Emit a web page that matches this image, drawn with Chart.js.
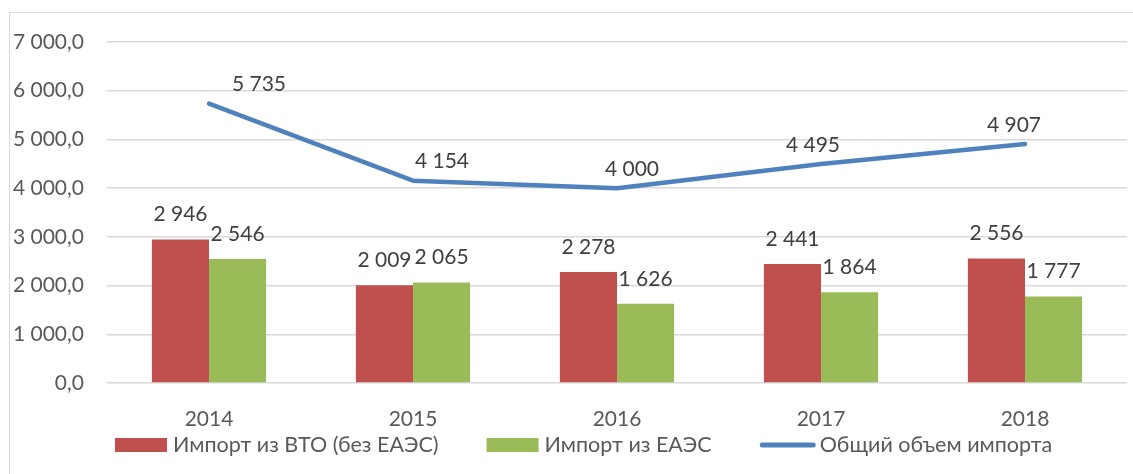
<!DOCTYPE html>
<html>
<head>
<meta charset="utf-8">
<script src="https://cdn.jsdelivr.net/npm/chart.js@4"></script>
<style>
  html, body { margin: 0; padding: 0; background: #fff; }
  #wrap { width: 1133px; height: 474px; position: relative; }
</style>
</head>
<body>
<div id="wrap"><canvas id="grafico" width="1133" height="474"></canvas></div>
<script>
// Dados do gráfico
const anos = ['2014', '2015', '2016', '2017', '2018'];
const importWTO = [2946, 2009, 2278, 2441, 2556];
const importEAEU = [2546, 2065, 1626, 1864, 1777];
const importTotal = [5735, 4154, 4000, 4495, 4907];
const yTicks = [0, 1000, 2000, 3000, 4000, 5000, 6000, 7000];

const nomes = ['Импорт из ВТО (без ЕАЭС)', 'Импорт из ЕАЭС', 'Общий объем импорта'];
const cores = ['#C0504D', '#9BBB59', '#4F81BD'];

// deslocamento horizontal dos rótulos da linha (como no original)
const desvioRotulo = [50, 29, 15, -8, -11];

const fonte = 'Lato, "Open Sans", sans-serif';

function formatar(n) {
  return String(n).replace(/\B(?=(\d{3})+(?!\d))/g, ' ');
}

// Moldura cinza do gráfico
const moldura = {
  id: 'moldura',
  beforeDraw(chart) {
    const ctx = chart.ctx;
    ctx.save();
    ctx.strokeStyle = '#d9d9d9';
    ctx.lineWidth = 1;
    ctx.strokeRect(9.5, 12.5, 1200, 500);
    ctx.restore();
  }
};

// Rótulos de dados
const rotulos = {
  id: 'rotulos',
  afterDatasetsDraw(chart) {
    const ctx = chart.ctx;
    ctx.save();
    ctx.font = '21px ' + fonte;
    ctx.fillStyle = '#404040';
    ctx.textAlign = 'center';
    ctx.textBaseline = 'middle';
    chart.data.datasets.forEach((ds, i) => {
      const meta = chart.getDatasetMeta(i);
      meta.data.forEach((el, j) => {
        const txt = formatar(ds.data[j]);
        if (ds.type === 'line') {
          ctx.fillText(txt, el.x + desvioRotulo[j], el.y - 19);
        } else {
          ctx.fillText(txt, el.x, el.y - 25);
        }
      });
    });
    ctx.restore();
  }
};

// Legenda desenhada à mão
const legenda = {
  id: 'legenda',
  afterDraw(chart) {
    const ctx = chart.ctx;
    ctx.save();
    ctx.font = '21.5px ' + fonte;
    ctx.textBaseline = 'middle';
    ctx.textAlign = 'left';
    const y = 445;
    let x = 115;
    nomes.forEach((nome, i) => {
      if (i < 2) {
        ctx.fillStyle = cores[i];
        ctx.fillRect(x, y - 7, 52, 14);
        x += 52 + 6;
      } else {
        ctx.strokeStyle = cores[i];
        ctx.lineWidth = 5;
        ctx.lineCap = 'round';
        ctx.beginPath();
        ctx.moveTo(x + 2.5, y);
        ctx.lineTo(x + 53.5, y);
        ctx.stroke();
        x += 60;
      }
      ctx.fillStyle = '#595959';
      ctx.fillText(nome, x, y);
      x += ctx.measureText(nome).width + 48;
    });
    ctx.restore();
  }
};

const ctx = document.getElementById('grafico').getContext('2d');
new Chart(ctx, {
  type: 'bar',
  data: {
    labels: anos,
    datasets: [
      {
        type: 'line',
        label: nomes[2],
        data: importTotal,
        borderColor: cores[2],
        backgroundColor: cores[2],
        borderWidth: 4.5,
        borderCapStyle: 'round',
        borderJoinStyle: 'round',
        pointRadius: 0,
        tension: 0,
        order: 0
      },
      {
        label: nomes[0],
        data: importWTO,
        backgroundColor: cores[0],
        order: 1
      },
      {
        label: nomes[1],
        data: importEAEU,
        backgroundColor: cores[1],
        order: 1
      }
    ]
  },
  options: {
    responsive: false,
    animation: false,
    devicePixelRatio: 1,
    layout: { padding: { top: 42, right: 6, left: 0, bottom: 0 } },
    datasets: {
      bar: { categoryPercentage: 0.56, barPercentage: 1 }
    },
    plugins: {
      legend: { display: false },
      tooltip: { enabled: false }
    },
    scales: {
      x: {
        grid: { display: false },
        border: { display: false },
        ticks: {
          color: '#595959',
          font: { family: fonte, size: 21 },
          padding: 16
        },
        afterFit(scale) { scale.height = 91; }
      },
      y: {
        min: 0,
        max: 7000,
        afterBuildTicks(scale) {
          scale.ticks = yTicks.map(v => ({ value: v }));
        },
        grid: { color: '#d9d9d9', lineWidth: 1.5, drawTicks: false },
        border: { display: false },
        ticks: {
          color: '#595959',
          font: { family: fonte, size: 21 },
          padding: 23,
          callback: v => formatar(v) + ',0'
        },
        afterFit(scale) { scale.width = 107; }
      }
    }
  },
  plugins: [moldura, rotulos, legenda]
});
</script>
</body>
</html>
